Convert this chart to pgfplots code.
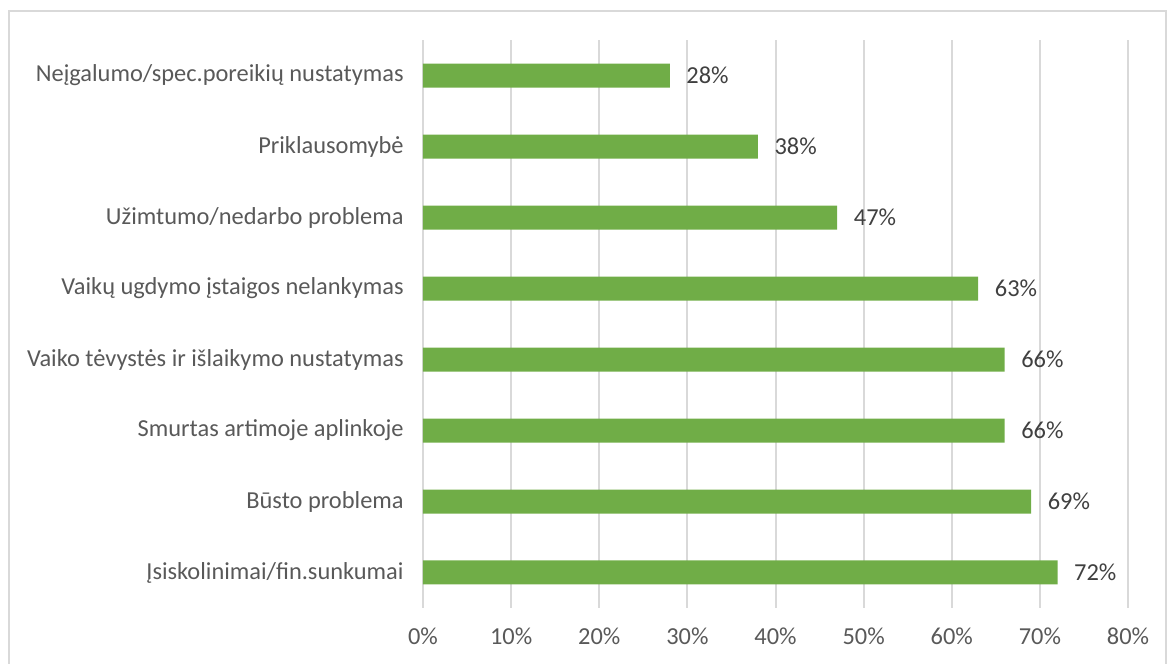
\documentclass[border=0pt]{standalone}
\usepackage{fontspec}
\setmainfont{Carlito}
\usepackage{pgfplots}
\pgfplotsset{compat=1.18}
\definecolor{barg}{HTML}{70AD47}
\definecolor{gridc}{HTML}{D9D9D9}
\definecolor{labc}{HTML}{595959}
\definecolor{valc}{HTML}{404040}
\begin{document}
\begin{tikzpicture}[x=0.75pt,y=0.75pt]
\path[use as bounding box] (0,0) rectangle (1168,664);
\draw[gridc, line width=1pt] (9,-5) -- (9,653) -- (1166,653) -- (1166,-5);
\begin{axis}[
  at={(317.25pt,42pt)}, anchor=south west,
  scale only axis, width=528.75pt, height=426pt,
  xbar, bar width=18pt,
  xmin=0, xmax=80, ymin=0.5, ymax=8.5,
  /pgf/number format/assume math mode=true,
  xtick={0,10,...,80},
  xticklabels={0\%,10\%,20\%,30\%,40\%,50\%,60\%,70\%,80\%},
  ytick={1,...,8},
  yticklabels={Įsiskolinimai/fin.sunkumai, Būsto problema, Smurtas artimoje aplinkoje\hspace{5pt}, Vaiko tėvystės ir išlaikymo nustatymas, Vaikų ugdymo įstaigos nelankymas, Užimtumo/nedarbo problema, Priklausomybė, Neįgalumo/spec.poreikių nustatymas},
  axis line style={draw=none},
  major tick length=0pt,
  xmajorgrids, grid style={gridc, line width=1.5pt},
  tick label style={font=\fontsize{18.3}{20}\selectfont, text=labc},
  xticklabel style={yshift=-11pt},
  yticklabel style={xshift=-11pt},
  nodes near coords={\pgfmathprintnumber{\pgfplotspointmeta}\%},
  nodes near coords style={anchor=west, xshift=9pt, font=\fontsize{18.3}{20}\selectfont, text=valc},
]
\addplot[fill=barg, draw=none] coordinates {
(72,1) (69,2) (66,3) (66,4) (63,5) (47,6) (38,7) (28,8)
};
\end{axis}
\end{tikzpicture}
\end{document}
